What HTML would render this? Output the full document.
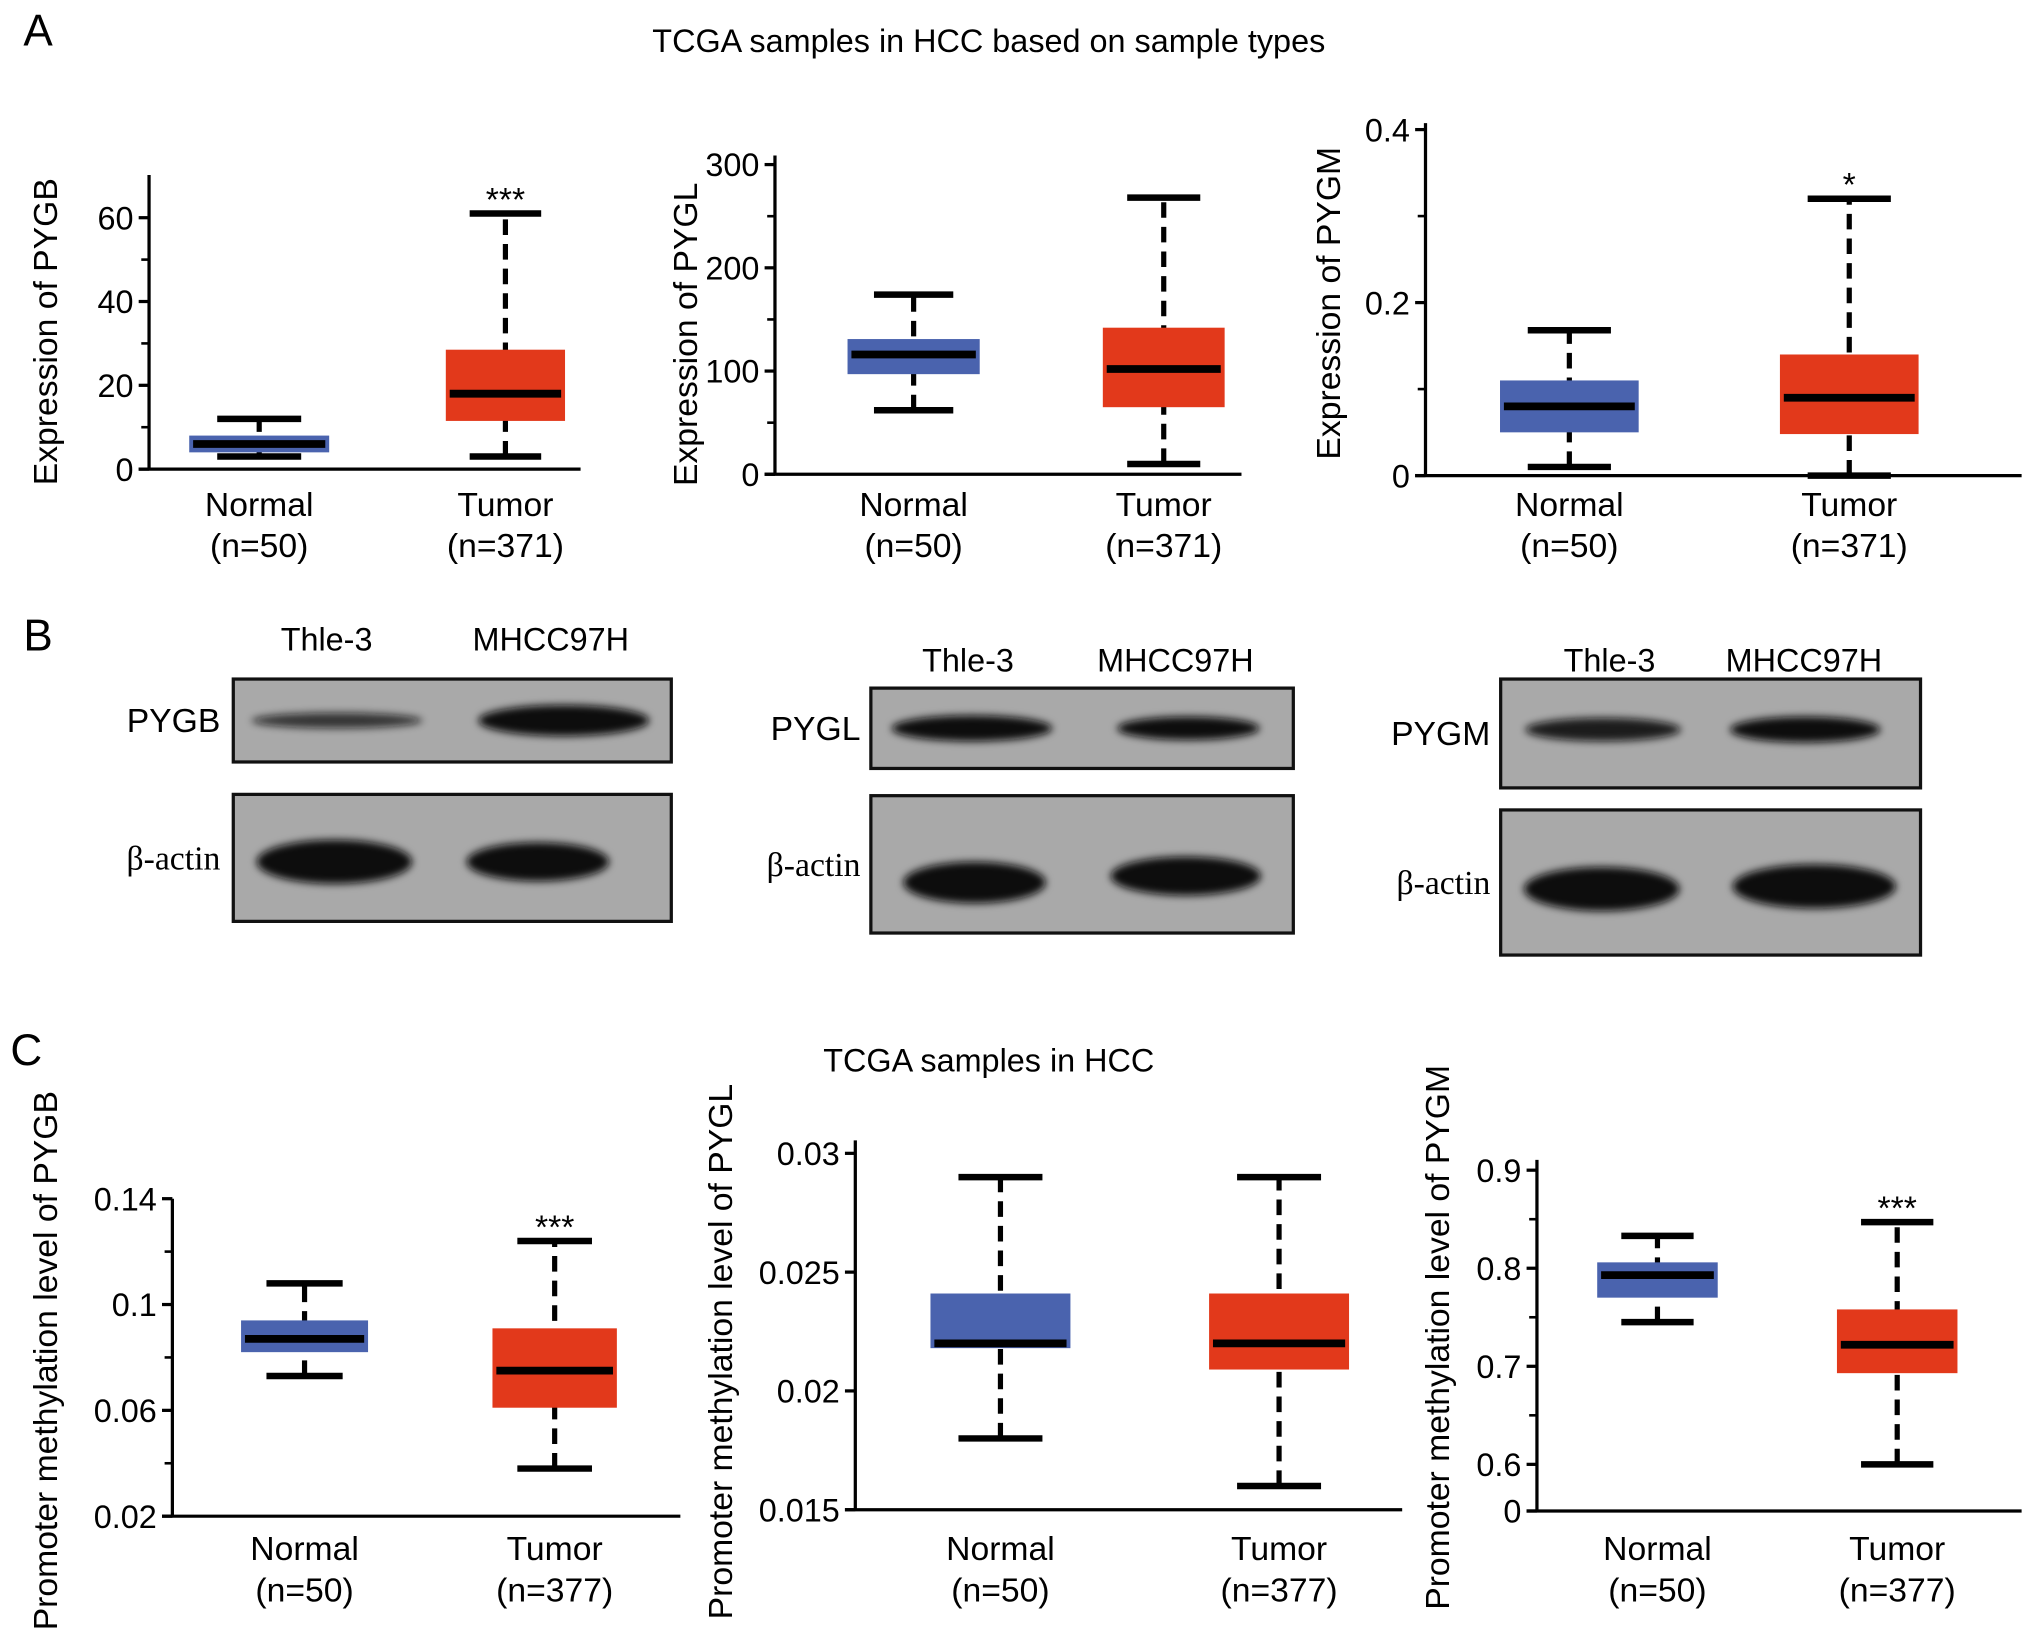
<!DOCTYPE html>
<html><head><meta charset="utf-8">
<style>
html,body{margin:0;padding:0;background:#fff;}
svg{display:block;font-family:"Liberation Sans",sans-serif;}
</style></head>
<body>
<svg id="fig" width="2032" height="1638" viewBox="0 0 1568 1264" xmlns="http://www.w3.org/2000/svg">
<defs>
<filter id="blur" x="-20%" y="-50%" width="140%" height="200%"><feGaussianBlur stdDeviation="3"/></filter>
</defs>
<text x="18" y="35" font-size="34">A</text>
<text x="18" y="502" font-size="34">B</text>
<text x="8" y="822" font-size="34">C</text>
<text x="763" y="40" font-size="25" text-anchor="middle">TCGA samples in HCC based on sample types</text>
<text x="763" y="827" font-size="25" text-anchor="middle">TCGA samples in HCC</text>
<g id="charts"></g>
<g id="blots"></g>
</svg>
<script>
// Chart data: [lowWhisker, q1, median, q3, highWhisker]
const groups = ["Normal", "Tumor"];
const nA = ["(n=50)", "(n=371)"];
const nC = ["(n=50)", "(n=377)"];
const pygbExpr = [[3, 4, 6, 8, 12], [3, 11.5, 18, 28.5, 61]];
const pyglExpr = [[62, 97, 116, 131, 174], [10, 65, 102, 142, 268]];
const pygmExpr = [[0.01, 0.05, 0.08, 0.11, 0.168], [0, 0.048, 0.09, 0.14, 0.32]];
const pygbMeth = [[0.073, 0.082, 0.087, 0.094, 0.108], [0.038, 0.061, 0.075, 0.091, 0.124]];
const pyglMeth = [[0.018, 0.0218, 0.022, 0.0241, 0.029], [0.016, 0.0209, 0.022, 0.0241, 0.029]];
const pygmMeth = [[0.745, 0.77, 0.793, 0.806, 0.833], [0.6, 0.693, 0.722, 0.758, 0.847]];
const sigA = ["***", "", "*"];
const sigC = ["***", "", "***"];
const ticksPYGB = ["0", "20", "40", "60"];
const ticksPYGL = ["0", "100", "200", "300"];
const ticksPYGM = ["0", "0.2", "0.4"];
const ticksMB = ["0.02", "0.06", "0.1", "0.14"];
const ticksML = ["0.015", "0.02", "0.025", "0.03"];
const ticksMM = ["0.6", "0.7", "0.8", "0.9"];

const NS = "http://www.w3.org/2000/svg";
function mk(tag, attrs, parent, text) {
  const e = document.createElementNS(NS, tag);
  for (const k in attrs) e.setAttribute(k, attrs[k]);
  if (text !== undefined) e.textContent = text;
  parent.appendChild(e);
  return e;
}
const charts = document.getElementById("charts");

const layouts = [
  {data: pygbExpr, ticks: ticksPYGB, minors: [10,30,50], v0: 0, v1: 60, y0: 362, y1: 168, ax: 115, axTop: 135, axR: 448, cx: [200, 390], bw: [108, 92], title: "Expression of PYGB", tx: 44, tc: 256, ns: nA, sig: sigA[0], lblY: 398, name: "chart-pygb-expression"},
  {data: pyglExpr, ticks: ticksPYGL, minors: [50,150,250], v0: 0, v1: 300, y0: 366, y1: 127, ax: 598, axTop: 120, axR: 958, cx: [705, 898], bw: [102, 94], title: "Expression of PYGL", tx: 538, tc: 258, ns: nA, sig: "", lblY: 398, name: "chart-pygl-expression"},
  {data: pygmExpr, ticks: ticksPYGM, minors: [0.1,0.3], v0: 0, v1: 0.4, y0: 367, y1: 100, ax: 1100, axTop: 95, axR: 1560, cx: [1211, 1427], bw: [107, 107], title: "Expression of PYGM", tx: 1034, tc: 234, ns: nA, sig: sigA[2], lblY: 398, name: "chart-pygm-expression"},
  {data: pygbMeth, ticks: ticksMB, minors: [0.04,0.08,0.12], v0: 0.02, v1: 0.14, y0: 1170, y1: 925, ax: 133, axTop: 925, axR: 525, cx: [235, 428], bw: [98, 96], title: "Promoter methylation level of PYGB", tx: 44, tc: 1050, ns: nC, sig: sigC[0], lblY: 1204, name: "chart-pygb-methylation"},
  {data: pyglMeth, ticks: ticksML, minors: [], v0: 0.015, v1: 0.03, y0: 1165, y1: 890, ax: 660, axTop: 880, axR: 1082, cx: [772, 987], bw: [108, 108], title: "Promoter methylation level of PYGL", tx: 565, tc: 1043, ns: nC, sig: "", lblY: 1204, name: "chart-pygl-methylation"},
  {data: pygmMeth, ticks: ticksMM, minors: [0.65,0.75,0.85], v0: 0.6, v1: 0.9, y0: 1130, y1: 903, ax: 1186, axTop: 895, axR: 1560, cx: [1279, 1464], bw: [93, 93], title: "Promoter methylation level of PYGM", tx: 1118, tc: 1032, ns: nC, sig: sigC[2], lblY: 1204, name: "chart-pygm-methylation", zero: 1166}
];

layouts.forEach(L => {
  const g = mk("g", {}, charts);
  
  
  const y = v => L.y0 + (v - L.v0) / (L.v1 - L.v0) * (L.y1 - L.y0);
  const base = L.zero || L.y0;
  const yax = mk("line", {x1: L.ax, y1: L.axTop, x2: L.ax, y2: base, stroke: "#000", "stroke-width": 2.5}, g);
  
  
  const xax = mk("line", {x1: L.ax - 8, y1: base, x2: L.axR, y2: base, stroke: "#000", "stroke-width": 2.5}, g);
  
  
  L.ticks.forEach(t => {
    const v = parseFloat(t), yy = y(v);
    mk("line", {x1: L.ax - 8, y1: yy, x2: L.ax, y2: yy, stroke: "#000", "stroke-width": 2.5}, g);
    const tl = mk("text", {x: L.ax - 12, y: yy + 9, "font-size": 25, "text-anchor": "end"}, g, t);
    
    
  });
  L.minors.forEach(v => {
    const yy = y(v);
    mk("line", {x1: L.ax - 6, y1: yy, x2: L.ax, y2: yy, stroke: "#000", "stroke-width": 2}, g);
  });
  if (L.zero) {
    mk("line", {x1: L.ax - 8, y1: L.zero, x2: L.ax, y2: L.zero, stroke: "#000", "stroke-width": 2.5}, g);
    const z = mk("text", {x: L.ax - 12, y: L.zero + 9, "font-size": 25, "text-anchor": "end"}, g, "0");
    
    
  }
  const yt = mk("text", {x: 0, y: 0, "font-size": 26, "text-anchor": "middle", transform: `translate(${L.tx},${L.tc}) rotate(-90)`}, g, L.title);
  
  
  L.data.forEach((d, i) => {
    const cx = L.cx[i], w = L.bw[i];
    const col = i === 0 ? "#4a63ae" : "#e2391b";
    const ww = w * 0.6;
    const wh = mk("line", {x1: cx, y1: y(d[0]), x2: cx, y2: y(d[4]), stroke: "#000", "stroke-width": 4, "stroke-dasharray": "12,7"}, g);
    
    
    mk("line", {x1: cx - ww / 2, y1: y(d[0]), x2: cx + ww / 2, y2: y(d[0]), stroke: "#000", "stroke-width": 5}, g);
    mk("line", {x1: cx - ww / 2, y1: y(d[4]), x2: cx + ww / 2, y2: y(d[4]), stroke: "#000", "stroke-width": 5}, g);
    const bx = mk("rect", {x: cx - w / 2, y: y(d[3]), width: w, height: y(d[1]) - y(d[3]), fill: col}, g);
    
    
    const md = mk("line", {x1: cx - w / 2 + 3, y1: y(d[2]), x2: cx + w / 2 - 3, y2: y(d[2]), stroke: "#000", "stroke-width": 6}, g);
    
    
    const gl = mk("text", {x: cx, y: L.lblY, "font-size": 26, "text-anchor": "middle"}, g, groups[i]);
    
    
    const nl = mk("text", {x: cx, y: L.lblY + 32, "font-size": 26, "text-anchor": "middle"}, g, L.ns[i]);
    
    
    if (i === 1 && L.sig) {
      const s = mk("text", {x: cx, y: y(d[4]) - 2, "font-size": 26, "text-anchor": "middle"}, g, L.sig);
      
      
    }
  });
});

// Western blots
const blotG = document.getElementById("blots");
const blots = [
  {lx: 252, rx: 425, hy: 502, prot: "PYGB", tb: [180, 524, 338, 64], bb: [180, 613, 338, 98], top: [[260, 556, 66, 6, 0.75], [435, 556, 66, 12, 1]], bot: [[258, 665, 60, 17, 1], [415, 665, 55, 15, 1]], pl: 170, name: "blot-pygb"},
  {lx: 747, rx: 907, hy: 518, prot: "PYGL", tb: [672, 531, 326, 62], bb: [672, 614, 326, 106], top: [[750, 562, 62, 10, 1], [917, 562, 55, 9, 1]], bot: [[752, 681, 55, 16, 1], [915, 676, 58, 15, 1]], pl: 664, name: "blot-pygl"},
  {lx: 1242, rx: 1392, hy: 518, prot: "PYGM", tb: [1158, 524, 324, 84], bb: [1158, 625, 324, 112], top: [[1237, 563, 60, 9, 0.9], [1393, 563, 58, 10, 1]], bot: [[1236, 686, 60, 17, 1], [1400, 684, 63, 17, 1]], pl: 1150, name: "blot-pygm"}
];
blots.forEach(B => {
  const g = mk("g", {}, blotG);
  
  
  mk("text", {x: B.lx, y: B.hy, "font-size": 25, "text-anchor": "middle"}, g, "Thle-3");
  mk("text", {x: B.rx, y: B.hy, "font-size": 25, "text-anchor": "middle"}, g, "MHCC97H");
  [[B.tb, B.top, B.prot], [B.bb, B.bot, "β-actin"]].forEach(([r, bands, lab]) => {
    const rc = mk("rect", {x: r[0], y: r[1], width: r[2], height: r[3], fill: "#a9a9a9", stroke: "#111", "stroke-width": 2.5}, g);
    
    
    bands.forEach(b => {
      mk("ellipse", {cx: b[0], cy: b[1], rx: b[2], ry: b[3], fill: "#0a0a0a", opacity: b[4], filter: "url(#blur)"}, g);
    });
    const t = mk("text", {x: B.pl, y: r[1] + r[3] / 2 + 9, "font-size": 26, "text-anchor": "end", "font-family": lab === "β-actin" ? "Liberation Serif, serif" : "Liberation Sans, sans-serif"}, g, lab);
    
    
  });
});
</script>
</body></html>
